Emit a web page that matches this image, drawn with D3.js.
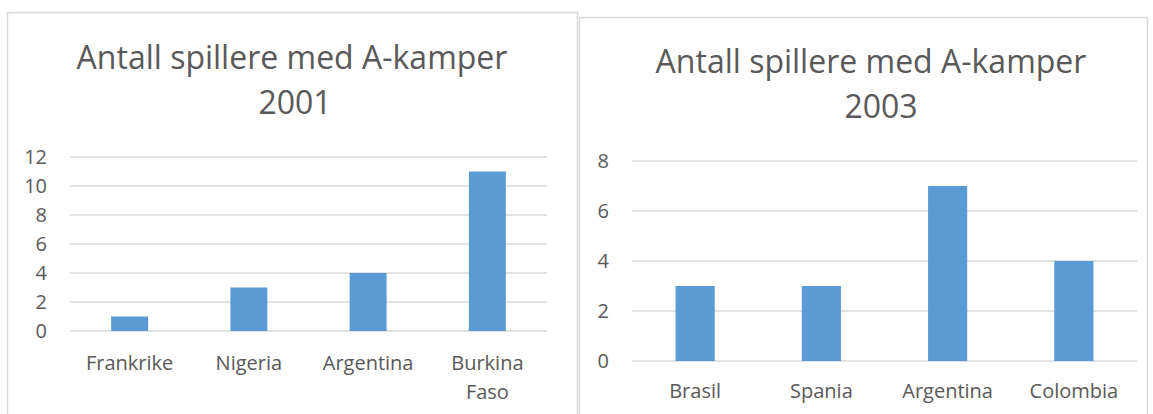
<!DOCTYPE html>
<html>
<head>
<meta charset="utf-8">
<script src="https://cdn.jsdelivr.net/npm/d3@7"></script>
<style>
  body { margin: 0; background: #fff; }
  svg { display: block; }
  text { font-family: "Open Sans", "Noto Sans", sans-serif; fill: #595959; }
</style>
</head>
<body>
<script>
// data for the two charts
const titleLine1 = "Antall spillere med A-kamper";
const categories2001 = ["Frankrike", "Nigeria", "Argentina", "Burkina Faso"];
const values2001 = [1, 3, 4, 11];
const ticks2001 = [0, 2, 4, 6, 8, 10, 12];
const categories2003 = ["Brasil", "Spania", "Argentina", "Colombia"];
const values2003 = [3, 3, 7, 4];
const ticks2003 = [0, 2, 4, 6, 8];

const W = 1153, H = 414;
const svg = d3.select("body").append("svg").attr("width", W).attr("height", H);

function drawChart(opt) {
    const g = svg.append("g");
    // panel frame
    g.append("rect")
        .attr("x", opt.box[0] + 0.5).attr("y", opt.box[1] + 0.5)
        .attr("width", opt.box[2]).attr("height", H)
        .attr("fill", "#fff").attr("stroke", "#d9d9d9").attr("stroke-width", 1.5);

    // title, two lines
    g.append("text").attr("x", opt.titleX[0]).attr("y", opt.titleY)
        .attr("text-anchor", "middle").style("font-size", "32px").text(titleLine1);
    g.append("text").attr("x", opt.titleX[1]).attr("y", opt.titleY + 45)
        .attr("text-anchor", "middle").style("font-size", "32px").text(opt.year);

    const x = d3.scaleBand().domain(opt.cats).range([opt.x0, opt.x1]).paddingInner(0.69).paddingOuter(0.345);
    const y = d3.scaleLinear().domain([0, d3.max(opt.ticks)]).range([opt.y0, opt.y1]);

    // gridlines
    g.append("g").selectAll("line").data(opt.ticks).join("line")
        .attr("x1", opt.x0).attr("x2", opt.x1)
        .attr("y1", d => y(d)).attr("y2", d => y(d))
        .attr("stroke", "#d9d9d9").attr("stroke-width", 1.5);

    // y axis labels
    const yAxis = g.append("g").attr("transform", `translate(${opt.x0},0)`)
        .call(d3.axisLeft(y).tickValues(opt.ticks).tickSize(0).tickPadding(opt.tickPad));
    yAxis.select(".domain").remove();
    yAxis.selectAll("text").style("font-size", "20px").style("fill", "#595959")
        .style("font-family", "Open Sans, sans-serif");

    // bars
    g.append("g").selectAll("rect").data(opt.vals).join("rect")
        .attr("x", (d, i) => x(opt.cats[i]))
        .attr("width", x.bandwidth())
        .attr("y", d => y(d))
        .attr("height", d => y(0) - y(d))
        .attr("fill", "#5b9bd5");

    // category labels (wrap two-word labels that do not fit)
    const lab = g.append("g").selectAll("text").data(opt.cats).join("text")
        .attr("x", d => x(d) + x.bandwidth() / 2)
        .attr("y", opt.labelY)
        .attr("text-anchor", "middle").style("font-size", "20px");
    lab.each(function (d) {
        const parts = d === "Burkina Faso" ? ["Burkina", "Faso"] : [d];
        d3.select(this).selectAll("tspan").data(parts).join("tspan")
            .attr("x", x(d) + x.bandwidth() / 2)
            .attr("dy", (p, i) => i === 0 ? 0 : 29)
            .text(p => p);
    });
}

drawChart({
    box: [7, 12, 570], year: "2001", titleY: 69, titleX: [292, 295],
    cats: categories2001, vals: values2001, ticks: ticks2001,
    x0: 70, x1: 547, y0: 331, y1: 157, labelY: 370, tickPad: 23
});

drawChart({
    box: [579, 17, 568], year: "2003", titleY: 73, titleX: [871, 881],
    cats: categories2003, vals: values2003, ticks: ticks2003,
    x0: 632, x1: 1137, y0: 361, y1: 161, labelY: 398, tickPad: 23
});
</script>
</body>
</html>
